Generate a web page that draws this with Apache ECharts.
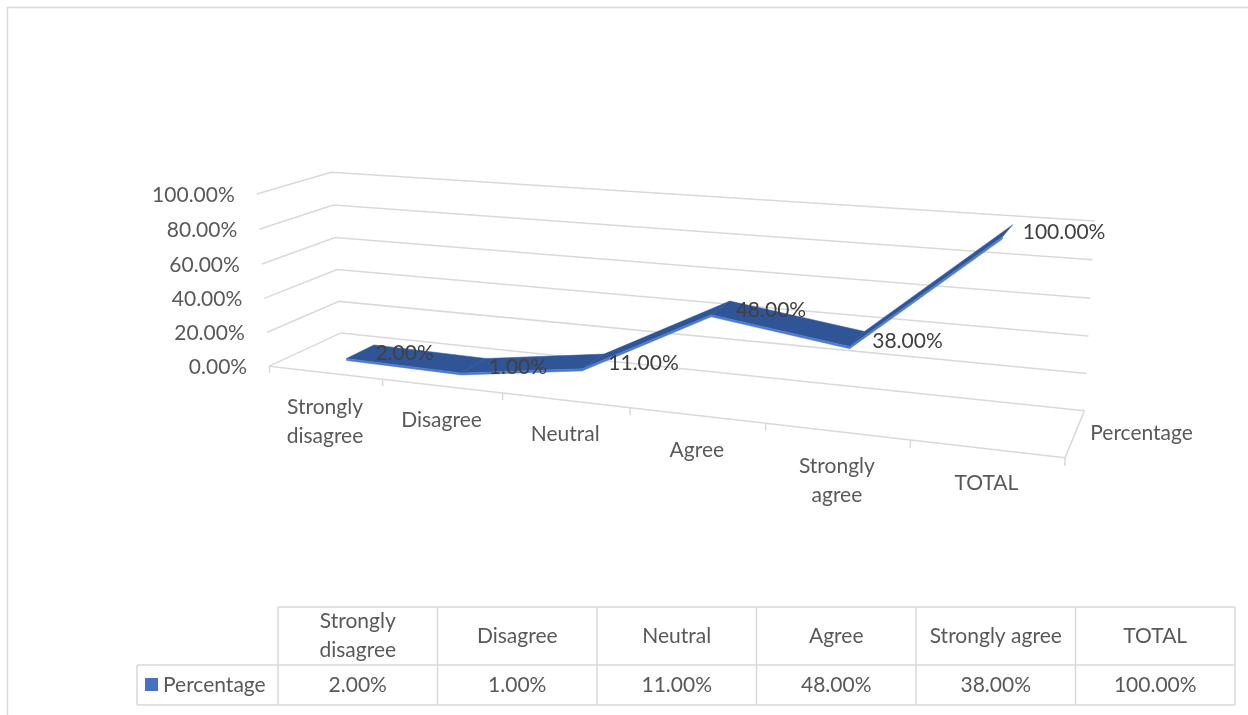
<!DOCTYPE html>
<html>
<head>
<meta charset="utf-8">
<script src="https://cdn.jsdelivr.net/npm/echarts@6/dist/echarts.min.js"></script>
<style>
  html, body { margin: 0; padding: 0; background: #fff; }
  #chart { width: 1248px; height: 715px; }
</style>
</head>
<body>
<div id="chart"></div>
<script>
// data
const categories = ['Strongly disagree', 'Disagree', 'Neutral', 'Agree', 'Strongly agree', 'TOTAL']
const axisCategoryLabels = ['Strongly\ndisagree', 'Disagree', 'Neutral', 'Agree', 'Strongly\nagree', 'TOTAL']
const tableHeaderLabels = ['Strongly\ndisagree', 'Disagree', 'Neutral', 'Agree', 'Strongly agree', 'TOTAL']
const seriesName = 'Percentage'
const percentage = [0.02, 0.01, 0.11, 0.48, 0.38, 1.00]
const valueTicks = [0, 0.2, 0.4, 0.6, 0.8, 1.0]

const FONT = '21px Lato'
const TEXT = '#595959'
const GRID = '#d9d9d9'

const fmt = v => (v * 100).toFixed(2) + '%'

// box corners of the 3D plot on screen (u = category axis, v = value, z = depth)
const anchors = [
  [0, 0, 0, 270, 365], [1, 0, 0, 1065, 457], [0, 0, 1, 340, 332], [1, 0, 1, 1085, 411],
  [0, 1, 0, 256, 193], [0, 1, 1, 332, 173], [1, 1, 1, 1095, 221],
  [1 / 6, 0, 0, 383, 380], [1 / 3, 0, 0, 502, 395], [0.5, 0, 0, 630, 407],
  [0, 0.6, 0, 262, 264], [0, 0.4, 0, 264, 299], [1, 0.6, 1, 1090, 298]
]

// fit a projective map (DLT, least squares)
const SX = 640, SY = 300, SS = 400
function fitProjection() {
  const A = [], b = []
  anchors.forEach(([u, v, z, x, y]) => {
    const X = (x - SX) / SS, Y = (y - SY) / SS
    A.push([u, v, z, 1, 0, 0, 0, 0, -X * u, -X * v, -X * z]); b.push(X)
    A.push([0, 0, 0, 0, u, v, z, 1, -Y * u, -Y * v, -Y * z]); b.push(Y)
  })
  const n = 11
  const M = []
  for (let i = 0; i < n; i++) {
    M.push(new Array(n + 1).fill(0))
    for (let j = 0; j < n; j++) {
      let s = 0
      for (let k = 0; k < A.length; k++) s += A[k][i] * A[k][j]
      M[i][j] = s
    }
    let s = 0
    for (let k = 0; k < A.length; k++) s += A[k][i] * b[k]
    M[i][n] = s
  }
  for (let c = 0; c < n; c++) {
    let p = c
    for (let r = c + 1; r < n; r++) if (Math.abs(M[r][c]) > Math.abs(M[p][c])) p = r
    const t = M[c]; M[c] = M[p]; M[p] = t
    for (let r = 0; r < n; r++) {
      if (r === c) continue
      const f = M[r][c] / M[c][c]
      for (let k = c; k <= n; k++) M[r][k] -= f * M[c][k]
    }
  }
  return M.map((row, i) => row[n] / row[i])
}
const pr = fitProjection()
function P(u, v, z) {
  const w = pr[8] * u + pr[9] * v + pr[10] * z + 1
  const X = (pr[0] * u + pr[1] * v + pr[2] * z + pr[3]) / w
  const Y = (pr[4] * u + pr[5] * v + pr[6] * z + pr[7]) / w
  return [SX + SS * X, SY + SS * Y]
}

// pixel from the hidden cartesian grid -> unit coords
function toUV(pt, cs) {
  return [(pt[0] - cs.x) / cs.width, (cs.y + cs.height - pt[1]) / cs.height]
}

const Z0 = 0.3, Z1 = 0.7, EDGE = 0.012

const chart = echarts.init(document.getElementById('chart'))

// data table under the plot
const tableLeft = 278, colW = 159.5, headTop = 607, rowMid = 665, rowBottom = 705, legendLeft = 137
const tableGraphics = []
tableGraphics.push({ type: 'line', shape: { x1: tableLeft, y1: headTop, x2: tableLeft + colW * 6, y2: headTop }, style: { stroke: GRID, lineWidth: 1.5 } })
tableGraphics.push({ type: 'line', shape: { x1: legendLeft, y1: rowMid, x2: tableLeft + colW * 6, y2: rowMid }, style: { stroke: GRID, lineWidth: 1.5 } })
tableGraphics.push({ type: 'line', shape: { x1: legendLeft, y1: rowBottom, x2: tableLeft + colW * 6, y2: rowBottom }, style: { stroke: GRID, lineWidth: 1.5 } })
tableGraphics.push({ type: 'line', shape: { x1: legendLeft, y1: rowMid, x2: legendLeft, y2: rowBottom }, style: { stroke: GRID, lineWidth: 1.5 } })
for (let i = 0; i <= categories.length; i++) {
  const x = tableLeft + colW * i
  tableGraphics.push({ type: 'line', shape: { x1: x, y1: headTop, x2: x, y2: rowBottom }, style: { stroke: GRID, lineWidth: 1.5 } })
}
categories.forEach((c, i) => {
  const cx = tableLeft + colW * (i + 0.5)
  tableGraphics.push({ type: 'text', style: { x: cx, y: (headTop + rowMid) / 2, text: tableHeaderLabels[i], align: 'center', verticalAlign: 'middle', lineHeight: 29, fill: TEXT, font: FONT } })
  tableGraphics.push({ type: 'text', style: { x: cx, y: (rowMid + rowBottom) / 2, text: fmt(percentage[i]), align: 'center', verticalAlign: 'middle', fill: TEXT, font: FONT } })
})
tableGraphics.push({ type: 'rect', shape: { x: 145, y: 678, width: 13, height: 13 }, style: { fill: '#4472c4' } })
tableGraphics.push({ type: 'text', style: { x: 163, y: (rowMid + rowBottom) / 2, text: seriesName, align: 'left', verticalAlign: 'middle', fill: TEXT, font: FONT } })
tableGraphics.push({ type: 'rect', shape: { x: 7.5, y: 7.5, width: 1260, height: 730 }, style: { fill: null, stroke: GRID, lineWidth: 1.5 } })

const option = {
  animation: false,
  grid: { left: 0, top: 0, width: 600, height: 600, show: false },
  xAxis: { type: 'category', data: categories, show: false },
  yAxis: { type: 'value', min: 0, max: 1, interval: 0.2, show: false },
  graphic: tableGraphics,
  series: [
    {
      // walls: gridlines and value labels
      type: 'custom',
      silent: true,
      z: 1,
      data: valueTicks.map(v => [0, v]),
      renderItem(params, api) {
        const cs = params.coordSys
        const val = api.value(1)
        const v = toUV(api.coord([0, val]), cs)[1]
        const a = P(0, v, 0), b = P(0, v, 1), c = P(1, v, 1)
        return {
          type: 'group',
          children: [
            { type: 'polyline', shape: { points: [a, b, c] }, style: { stroke: GRID, lineWidth: 1.5, fill: null } },
            { type: 'text', style: { x: a[0] - 22, y: a[1] + 1, text: fmt(val), align: 'right', verticalAlign: 'middle', fill: TEXT, font: FONT } }
          ]
        }
      }
    },
    {
      // floor: front edge, ticks, category labels
      type: 'custom',
      silent: true,
      z: 1,
      data: categories.map((c, i) => [i, 0]),
      renderItem(params, api) {
        const cs = params.coordSys
        const i = api.value(0)
        const center = api.coord([i, 0])
        const band = api.size([1, 0])[0]
        const uc = toUV(center, cs)[0]
        const uL = uc - band / 2 / cs.width, uR = uc + band / 2 / cs.width
        const line = { stroke: GRID, lineWidth: 1.5, fill: null }
        const pc = P(uc, 0, 0)
        const children = [
          { type: 'polyline', shape: { points: [P(uL, 0, 0), P(uR, 0, 0)] }, style: line },
          { type: 'polyline', shape: { points: [P(uL, 0, 0), P(uL, -0.04, 0)] }, style: line },
          { type: 'text', style: { x: pc[0], y: pc[1] + 20, text: axisCategoryLabels[i], align: 'center', verticalAlign: 'top', lineHeight: 29, fill: TEXT, font: FONT } }
        ]
        if (i === categories.length - 1) {
          const s = P(1, 0, 0.5)
          children.push(
            { type: 'polyline', shape: { points: [P(uR, -0.04, 0), P(uR, 0, 0), P(uR, 0, 1)] }, style: line },
            { type: 'text', style: { x: s[0] + 15, y: s[1], text: seriesName, align: 'left', verticalAlign: 'middle', fill: TEXT, font: FONT } }
          )
        }
        return { type: 'group', children }
      }
    },
    {
      // the 3D ribbon line
      type: 'custom',
      name: seriesName,
      silent: true,
      z: 3,
      data: percentage.map((v, i) => [i, v]),
      renderItem(params, api) {
        const cs = params.coordSys
        const i = api.value(0)
        const [ua, va] = toUV(api.coord([i, api.value(1)]), cs)
        const children = []
        if (i < percentage.length - 1) {
          const [ub, vb] = toUV(api.coord([i + 1, percentage[i + 1]]), cs)
          children.push({
            type: 'polygon',
            shape: { points: [P(ua, va, Z0), P(ub, vb, Z0), P(ub, vb, Z1), P(ua, va, Z1)] },
            style: { fill: '#2f5597', stroke: '#2f5597', lineWidth: 0.5 }
          })
          children.push({
            type: 'polygon',
            shape: { points: [P(ua, va, Z0), P(ub, vb, Z0), P(ub, vb - EDGE, Z0), P(ua, va - EDGE, Z0)] },
            style: { fill: '#4a7bd0', stroke: '#4a7bd0', lineWidth: 0.5 }
          })
        }
        return { type: 'group', children }
      }
    },
    {
      // data labels
      type: 'custom',
      silent: true,
      z: 4,
      data: percentage.map((v, i) => [i, v]),
      renderItem(params, api) {
        const cs = params.coordSys
        const [u, v] = toUV(api.coord([api.value(0), api.value(1)]), cs)
        const p = P(u, v, 0.5)
        return { type: 'text', style: { x: p[0] + 15, y: p[1] + 2, text: fmt(api.value(1)), align: 'left', verticalAlign: 'middle', fill: '#404040', font: FONT } }
      }
    }
  ]
}
chart.setOption(option)
</script>
</body>
</html>
